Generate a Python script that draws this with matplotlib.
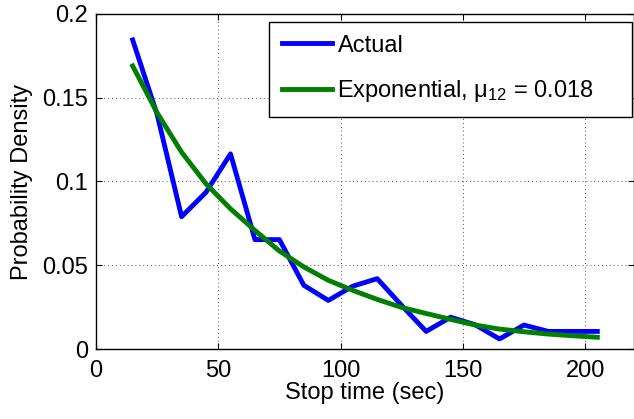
import matplotlib
matplotlib.use("Agg")
import matplotlib.pyplot as plt

plt.rcParams["font.family"] = ["Liberation Sans", "DejaVu Sans"]
plt.rcParams["mathtext.fontset"] = "custom"
plt.rcParams["mathtext.rm"] = "Liberation Sans"
plt.rcParams["mathtext.it"] = "Liberation Sans"

# dados
tempo = [15, 25, 35, 45, 55, 65, 75, 85, 95, 105,
         115, 125, 135, 145, 155, 165, 175, 185, 195, 205]
real = [0.1845, 0.140, 0.079, 0.0936, 0.1165, 0.0653, 0.0653, 0.038, 0.029, 0.0375,
        0.042, 0.026, 0.0105, 0.019, 0.0145, 0.0060, 0.0143, 0.0105, 0.0105, 0.0105]
exponencial = [0.169, 0.141, 0.1175, 0.0986, 0.0837, 0.0708, 0.0585, 0.049, 0.041, 0.035,
               0.0296, 0.0248, 0.0212, 0.0177, 0.0143, 0.0119, 0.0103, 0.0089, 0.0079, 0.0070]
xticks = [0, 50, 100, 150, 200]
yticks = [0, 0.05, 0.1, 0.15, 0.2]
ytick_labels = ["0", "0.05", "0.1", "0.15", "0.2"]

fig = plt.figure(figsize=(6.34, 4.19), dpi=100)
ax = fig.add_axes([96 / 634, 1 - 349 / 419, 538 / 634, 335 / 419])

ax.plot(tempo, real, color="#0000FF", linewidth=3.5, label="Actual")
ax.plot(tempo, exponencial, color="#007F00", linewidth=3.5,
        label="Exponential, μ$_{12}$ = 0.018")

ax.set_xlim(0, 220)
ax.set_ylim(0, 0.2)
ax.set_xticks(xticks)
ax.set_yticks(yticks)
ax.set_yticklabels(ytick_labels)
ax.tick_params(direction="in", top=True, right=True, labelsize=17, length=4)
ax.tick_params(axis="x", pad=8)
ax.tick_params(axis="y", pad=5.5)
ax.grid(True, linestyle=(0, (1, 3)), color="#555555", linewidth=0.7)
for s in ax.spines.values():
    s.set_linewidth(1.0)

ax.set_xlabel("Stop time (sec)", fontsize=17, labelpad=0)
ax.set_ylabel("Probability Density", fontsize=17, labelpad=7)

x0 = (269 - 96) / 538
larg = (632 - 269) / 538
topo = (349 - 22) / 335
leg = ax.legend(loc="upper left", bbox_to_anchor=(x0, topo - 0.4, larg, 0.4),
                mode="expand", borderaxespad=0,
                fontsize=17, fancybox=False, framealpha=1, edgecolor="black",
                handlelength=2.12, handletextpad=0.25, labelspacing=0.92,
                borderpad=0.53)
leg.get_frame().set_linewidth(1.0)

fig.savefig("out.png", dpi=100)
